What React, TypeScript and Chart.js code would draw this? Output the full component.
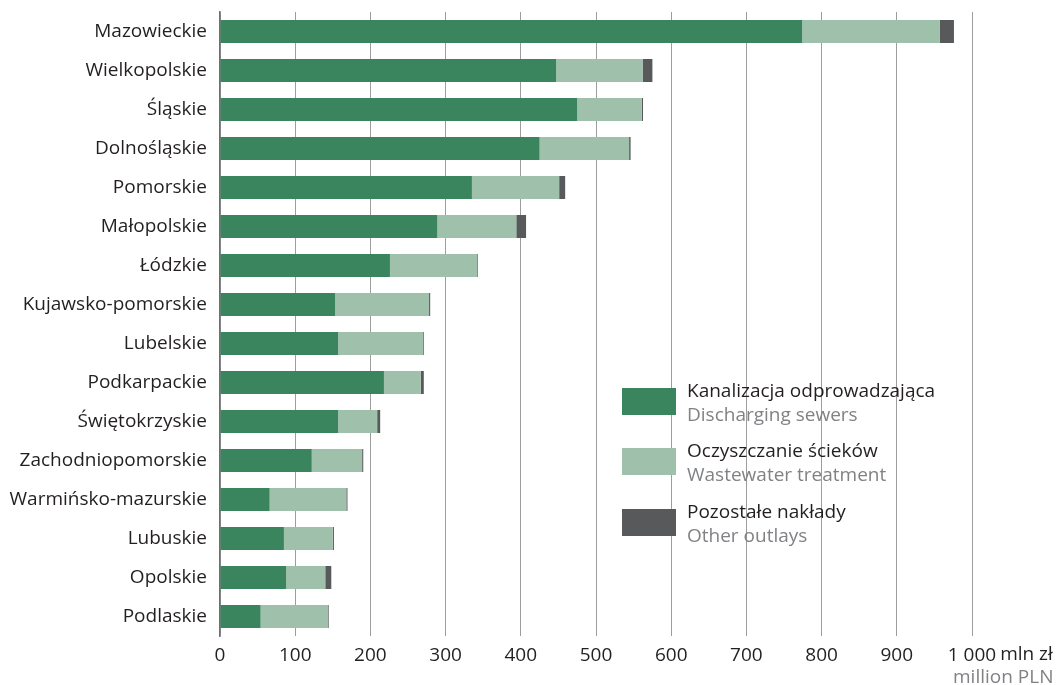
import { useEffect, useRef } from "react";
import { Chart, registerables } from "chart.js";

Chart.register(...registerables);

const categories = [
  "Mazowieckie",
  "Wielkopolskie",
  "Śląskie",
  "Dolnośląskie",
  "Pomorskie",
  "Małopolskie",
  "Łódzkie",
  "Kujawsko-pomorskie",
  "Lubelskie",
  "Podkarpackie",
  "Świętokrzyskie",
  "Zachodniopomorskie",
  "Warmińsko-mazurskie",
  "Lubuskie",
  "Opolskie",
  "Podlaskie",
];

const sewers = [774, 447, 475, 425, 335, 289, 226, 153, 157, 218, 157, 122, 66, 85, 88, 54];
const treatment = [183, 115, 86, 119, 116, 105, 116, 125, 113, 49, 52, 67, 102, 65, 52, 89];
const other = [19, 13, 1.5, 2, 8, 13, 1, 1.5, 1, 4, 4, 1.5, 1.5, 1.5, 8, 1.5];

const seriesLabelsPL = ["Kanalizacja odprowadzająca", "Oczyszczanie ścieków", "Pozostałe nakłady"];
const seriesLabelsEN = ["Discharging sewers", "Wastewater treatment", "Other outlays"];
const seriesColors = ["#3a855e", "#9fc0ab", "#58595b"];

const xMax = 1000;
const xStep = 100;
const unitPL = "mln zł";
const unitEN = "million PLN";

const FONT = "'Open Sans', sans-serif";

export default function App() {
  const ref = useRef<HTMLCanvasElement | null>(null);

  useEffect(() => {
    document.body.style.margin = "0";
    const canvas = ref.current;
    if (!canvas) return;

    const legendPlugin = {
      id: "customLegend",
      afterDraw(chart: any) {
        const ctx = chart.ctx;
        ctx.save();
        const boxX = 622;
        const boxW = 54;
        const boxH = 27;
        const tops = [388, 448, 509];
        const textX = 687;
        chart.data.datasets.forEach((ds: any, i: number) => {
          ctx.fillStyle = ds.backgroundColor;
          ctx.fillRect(boxX, tops[i], boxW, boxH);
          ctx.textAlign = "left";
          ctx.textBaseline = "alphabetic";
          ctx.font = `19px ${FONT}`;
          ctx.fillStyle = "#231f20";
          ctx.fillText(seriesLabelsPL[i], textX, tops[i] + 8.5);
          ctx.fillStyle = "#808285";
          ctx.fillText(seriesLabelsEN[i], textX, tops[i] + 33);
        });

        // unit labels
        const xs = chart.scales.x;
        const px = xs.getPixelForValue(xMax);
        ctx.font = `19px ${FONT}`;
        const halfW = ctx.measureText("1 000").width / 2;
        const space = ctx.measureText(" ").width;
        ctx.fillStyle = "#231f20";
        ctx.textBaseline = "middle";
        ctx.fillText(unitPL, px + halfW + space * 0.8, 655);
        ctx.textBaseline = "alphabetic";
        ctx.fillStyle = "#808285";
        ctx.fillText(unitEN, 953, 683);
        ctx.restore();
      },
    };

    const chart = new Chart(canvas, {
      type: "bar",
      data: {
        labels: categories,
        datasets: [
          { label: seriesLabelsPL[0], data: sewers, backgroundColor: seriesColors[0] },
          { label: seriesLabelsPL[1], data: treatment, backgroundColor: seriesColors[1] },
          { label: seriesLabelsPL[2], data: other, backgroundColor: seriesColors[2] },
        ],
      },
      options: {
        indexAxis: "y",
        animation: false,
        responsive: false,
        maintainAspectRatio: false,
        devicePixelRatio: 1,
        datasets: {
          bar: {
            barPercentage: 0.59,
            categoryPercentage: 1,
            borderWidth: 0,
          },
        },
        layout: { padding: { top: 12, left: 0, right: 84, bottom: 0 } },
        plugins: {
          legend: { display: false },
          tooltip: { enabled: false },
          title: { display: false },
        },
        scales: {
          x: {
            stacked: true,
            min: 0,
            max: xMax,
            ticks: {
              stepSize: xStep,
              color: "#231f20",
              font: { family: FONT, size: 19 },
              padding: 8,
              maxRotation: 0,
              autoSkip: false,
              callback: (v: any) => (Number(v) === 1000 ? "1 000" : String(v)),
            },
            grid: { color: "#9d9d9d", lineWidth: 1, drawTicks: false },
            border: { display: false },
            afterFit: (s: any) => {
              s.height = 49;
              s.paddingLeft = 0;
              s.paddingRight = 0;
            },
          },
          y: {
            stacked: true,
            ticks: {
              color: "#231f20",
              font: { family: FONT, size: 19 },
              padding: 13,
              autoSkip: false,
            },
            grid: { display: false, drawTicks: false },
            border: { display: true, color: "#6d6e71", width: 1.5 },
            afterFit: (s: any) => {
              s.width = 220;
              s.paddingTop = 0;
              s.paddingBottom = 0;
            },
          },
        },
      },
      plugins: [legendPlugin],
    });

    return () => chart.destroy();
  }, []);

  return <canvas ref={ref} width={1056} height={685} style={{ display: "block" }} />;
}
